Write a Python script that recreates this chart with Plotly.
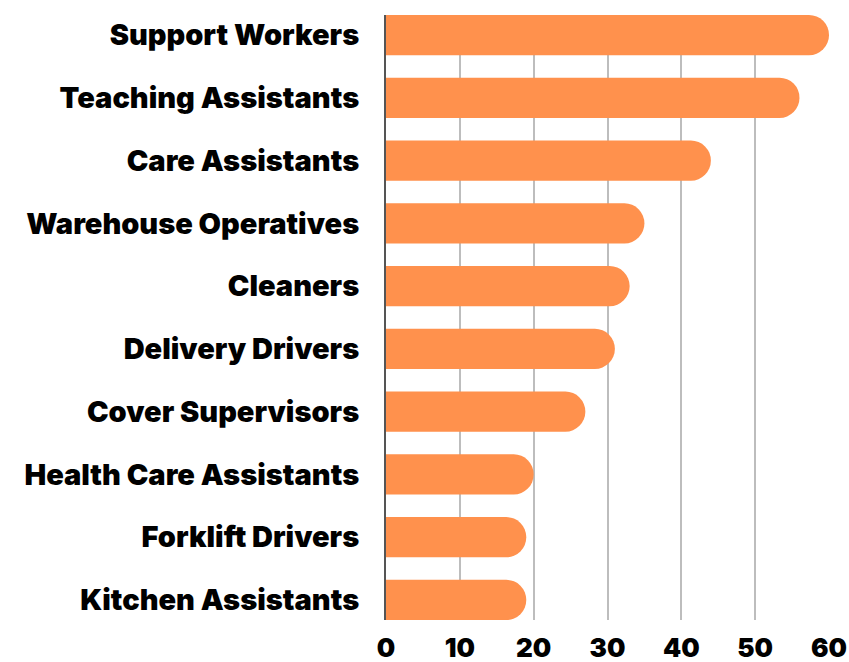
import plotly.graph_objects as go

categories = ["Support Workers", "Teaching Assistants", "Care Assistants",
              "Warehouse Operatives", "Cleaners", "Delivery Drivers",
              "Cover Supervisors", "Health Care Assistants", "Forklift Drivers",
              "Kitchen Assistants"]
values = [60, 56, 44, 35, 33, 31, 27, 20, 19, 19]
x_ticks = [0, 10, 20, 30, 40, 50, 60]

FONT = "Inter"

fig = go.Figure(go.Bar(
    x=values, y=categories, orientation="h",
    marker=dict(color="#FF914D", cornerradius=20, line=dict(width=0)),
    width=0.64,
    hoverinfo="skip",
))

fig.update_layout(
    width=849, height=662,
    margin=dict(l=386, r=20, t=15, b=42),
    plot_bgcolor="white", paper_bgcolor="white",
    showlegend=False,
    font=dict(family=FONT, color="black"),
)
fig.update_xaxes(
    range=[0, 60], tickvals=x_ticks, automargin=False,
    showgrid=True, gridcolor="#bdbdbd", gridwidth=1.5,
    zeroline=False, showline=False,
    tickfont=dict(family=FONT, size=26, weight=900, color="black"),
    ticklabelstandoff=10,
)
fig.update_yaxes(
    categoryorder="array", categoryarray=categories, automargin=False,
    range=[9.32, -0.32],
    showgrid=False, zeroline=False,
    showline=True, linecolor="#555555", linewidth=2,
    tickfont=dict(family=FONT, size=29, weight=900, color="black"),
    ticklabelstandoff=19,
)

fig.write_html(
    "out.html",
    config={"displayModeBar": False},
    post_script="document.body.style.margin='0';document.body.style.overflow='hidden';",
)
